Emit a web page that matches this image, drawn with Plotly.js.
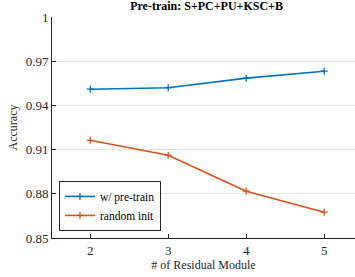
<!DOCTYPE html>
<html><head><meta charset="utf-8">
<script src="https://cdn.plot.ly/plotly-3.0.1.min.js"></script>
<style>html,body{margin:0;padding:0;background:#fff}#c{width:355px;height:277px}</style>
</head><body><div id="c"></div>
<script>
const modules = [2, 3, 4, 5];
const pretrain = [0.951, 0.952, 0.9585, 0.9632];
const randomInit = [0.9163, 0.9062, 0.8818, 0.8675];
const yTicks = [0.85, 0.88, 0.91, 0.94, 0.97, 1];
const yTickText = ['0.85', '0.88', '0.91', '0.94', '0.97', '1'];
const xTicks = [2, 3, 4, 5];

const mk = c => ({symbol: 'cross-thin', size: 5, line: {color: c, width: 1.3}, color: c});
const traces = [
  {x: modules, y: pretrain, name: 'w/ pre-train', mode: 'lines+markers',
   line: {color: '#0072BD', width: 1.6}, marker: mk('#0072BD')},
  {x: modules, y: randomInit, name: 'random init', mode: 'lines+markers',
   line: {color: '#D95319', width: 1.6}, marker: mk('#D95319')}
];
const FAM = 'Liberation Serif, serif';
const font = {family: FAM, color: '#262626'};
const layout = {
  width: 355, height: 277,
  margin: {l: 52, r: 0, t: 17, b: 39},
  paper_bgcolor: '#fff', plot_bgcolor: '#fff',
  font: Object.assign({size: 12}, font),
  title: {text: '<b>Pre-train: S+PC+PU+KSC+B</b>', font: Object.assign({size: 12}, font, {color: '#000'}),
          x: 0.51, xanchor: 'center', xref: 'paper', y: 1, yref: 'container', yanchor: 'top', pad: {t: 2}},
  xaxis: {range: [1.51, 5.395], tickvals: xTicks, ticks: 'inside', ticklen: 4, tickcolor: '#262626',
          showline: true, linecolor: '#262626', linewidth: 1, showgrid: false, zeroline: false,
          tickfont: Object.assign({size: 13}, font),
          title: {text: '# of Residual Module', font: Object.assign({size: 12}, font), standoff: 3}},
  yaxis: {range: [0.85, 1], tickvals: yTicks, ticktext: yTickText, ticks: 'inside', ticklen: 4, tickcolor: '#262626',
          showline: true, linecolor: '#262626', linewidth: 1, showgrid: true, gridcolor: '#e6e6e6', gridwidth: 1,
          zeroline: false, tickfont: Object.assign({size: 13}, font),
          title: {text: 'Accuracy', font: Object.assign({size: 12}, font), standoff: 5}},
  legend: {x: 0.023, y: 0.032, xanchor: 'left', yanchor: 'bottom', bgcolor: '#fff',
           bordercolor: '#262626', borderwidth: 1, font: Object.assign({size: 11.5}, font, {color: '#000'}),
           tracegroupgap: 0, itemwidth: 30},
  showlegend: true
};
Plotly.newPlot('c', traces, layout, {displayModeBar: false, staticPlot: true});
</script></body></html>
